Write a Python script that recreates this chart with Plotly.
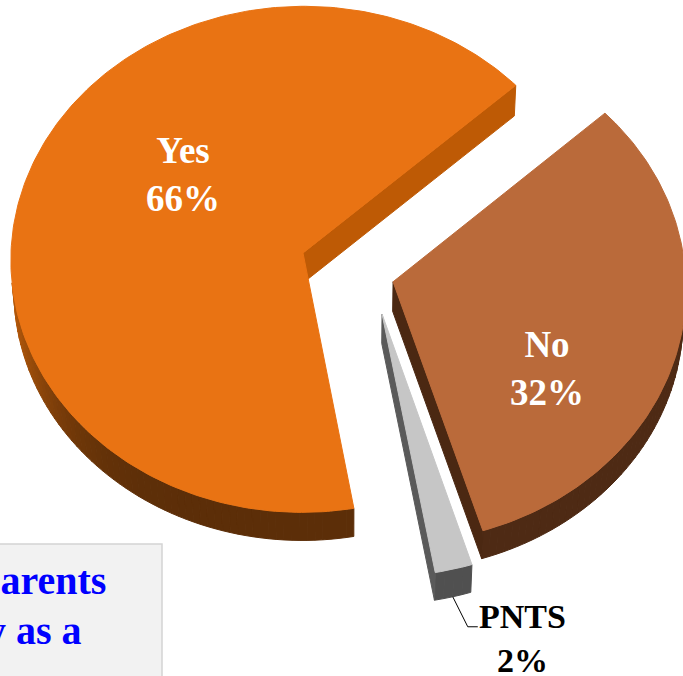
import numpy as np
import plotly.graph_objects as go

# ---- survey result ----
categories = ["Yes", "No", "PNTS"]
shares = [66, 32, 2]                      # percent of respondents
ring_order = ["Yes", "PNTS", "No"]        # counter-clockwise from the start angle

# ---- styling ----
top_colors = {"Yes": "#E97313", "No": "#BA6A3A", "PNTS": "#C6C6C6"}
wall_dark = {"Yes": "#5C2E08", "No": "#4E2A14", "PNTS": "#505050"}
wall_light = {"Yes": "#BC5C0A", "No": "#4E2A14", "PNTS": "#505050"}
cut_colors = {"Yes": "#BE5A05", "No": "#4B2812", "PNTS": "#5A5A5A"}
label_colors = {"Yes": "white", "No": "white", "PNTS": "black"}

# slice displacement in pie-radius units (x to the right, y away from viewer)
explode = {"Yes": (-0.15, 0.0), "No": (0.158, -0.1135), "PNTS": (0.12, -0.24)}
label_radius = {"Yes": 0.52, "No": 0.62}
LABEL_TURN = -18.0
START_DEG = 42.4

# ---- 3-D view ----
W, H = 683, 676
ELEV = np.radians(60)
COS_E, SIN_E = np.cos(ELEV), np.sin(ELEV)
CAM_DIST = 20.0
SCALE = 292.0
FOCAL = SCALE * CAM_DIST
ORIGIN_X, ORIGIN_Y = 346.8, 253.0
THICK = 0.205
CAM = np.array([0.0, -CAM_DIST * COS_E, CAM_DIST * SIN_E])
SERIF = "Liberation Serif"


def project(x, y, z):
    depth = CAM_DIST + y * COS_E - z * SIN_E
    return ORIGIN_X + FOCAL * x / depth, ORIGIN_Y - FOCAL * (y * SIN_E + z * COS_E) / depth


def faces_camera(point, normal):
    return float(np.dot(CAM - point, normal)) > 0


def to_rgb(h):
    h = h.lstrip("#")
    return np.array([int(h[i:i + 2], 16) for i in (0, 2, 4)], dtype=float)


def mix(dark, light, w):
    c = to_rgb(dark) + w * (to_rgb(light) - to_rgb(dark))
    return "rgb(%d,%d,%d)" % tuple(np.round(c).astype(int))


fig = go.Figure()


def polygon(points, color):
    xs, ys = zip(*points)
    fig.add_trace(go.Scatter(
        x=list(xs) + [xs[0]], y=list(ys) + [ys[0]], mode="lines",
        fill="toself", fillcolor=color, line=dict(color=color, width=1),
        hoverinfo="skip", showlegend=False))


# angular extent of each slice
spans = {}
angle = START_DEG
for name in ring_order:
    span = shares[categories.index(name)] / sum(shares) * 360.0
    spans[name] = (angle, angle + span)
    angle += span

# paint the farthest slice first
draw_order = sorted(ring_order, key=lambda n: -(CAM_DIST + explode[n][1] * COS_E))

for name in draw_order:
    a0, a1 = np.radians(spans[name])
    ox, oy = explode[name]

    # curved outer wall, shaded by direction
    n_seg = max(2, int(np.degrees(a1 - a0) / 1.5))
    edges = np.linspace(a0, a1, n_seg + 1)
    for t0, t1 in zip(edges[:-1], edges[1:]):
        tm = 0.5 * (t0 + t1)
        pt = np.array([ox + np.cos(tm), oy + np.sin(tm), -THICK / 2])
        nrm = np.array([np.cos(tm), np.sin(tm), 0.0])
        if not faces_camera(pt, nrm):
            continue
        w = max(0.0, -np.cos(tm)) ** 6
        quad = [project(ox + np.cos(t), oy + np.sin(t), z)
                for t, z in ((t0, 0), (t1, 0), (t1, -THICK), (t0, -THICK))]
        polygon(quad, mix(wall_dark[name], wall_light[name], w))

    # radial cut faces
    for edge, sign in ((a0, 1.0), (a1, -1.0)):
        nrm = sign * np.array([np.sin(edge), -np.cos(edge), 0.0])
        mid = np.array([ox + 0.5 * np.cos(edge), oy + 0.5 * np.sin(edge), -THICK / 2])
        if faces_camera(mid, nrm):
            quad = [project(ox + r * np.cos(edge), oy + r * np.sin(edge), z)
                    for r, z in ((0, 0), (1, 0), (1, -THICK), (0, -THICK))]
            polygon(quad, cut_colors[name])

    # top surface
    ts = np.linspace(a0, a1, max(8, int(np.degrees(a1 - a0))))
    top = [project(ox, oy, 0)] + [project(ox + np.cos(t), oy + np.sin(t), 0) for t in ts]
    polygon(top, top_colors[name])

annotations = []

# inside labels
for name in ("Yes", "No"):
    a0, a1 = spans[name]
    phi = np.radians(0.5 * (a0 + a1) + LABEL_TURN)
    ox, oy = explode[name]
    r = label_radius[name]
    lx, ly = project(ox + r * np.cos(phi), oy + r * np.sin(phi), 0)
    share = shares[categories.index(name)]
    annotations.append(dict(
        x=lx, y=ly, xref="x", yref="y", showarrow=False,
        text="<b>%s</b><br><b>%d%%</b>" % (name, share), align="center",
        font=dict(family=SERIF, size=37, color=label_colors[name])))

# outside label with leader line for the small slice
name = "PNTS"
a0, a1 = np.radians(spans[name])
tm = 0.5 * (a0 + a1)
ox, oy = explode[name]
sx, sy = project(ox + np.cos(tm), oy + np.sin(tm), -THICK)
elbow = (sx + 15, sy + 30)
tail = (elbow[0] + 10, elbow[1])
fig.add_trace(go.Scatter(
    x=[sx, elbow[0], tail[0]], y=[sy, elbow[1], tail[1]], mode="lines",
    line=dict(color="black", width=1), hoverinfo="skip", showlegend=False))
annotations.append(dict(
    x=tail[0] - 1, y=tail[1] + 12, xref="x", yref="y", xanchor="left", yanchor="middle",
    showarrow=False, align="center",
    text="<b>%s</b><br><b>%d%%</b>" % (name, shares[categories.index(name)]),
    font=dict(family=SERIF, size=34, color=label_colors[name])))

# note box in the lower left corner
note_lines = [("Parents", 108, 580), ("y as a", 84, 630)]
for txt, xr, yc in note_lines:
    annotations.append(dict(
        x=xr, y=yc, xref="x", yref="y", xanchor="right", yanchor="middle",
        showarrow=False, text="<b>%s</b>" % txt,
        font=dict(family=SERIF, size=40, color="#0000FF")))

fig.update_layout(
    width=W, height=H, margin=dict(l=0, r=0, t=0, b=0),
    paper_bgcolor="white", plot_bgcolor="white",
    xaxis=dict(range=[0, W], visible=False, fixedrange=True),
    yaxis=dict(range=[H, 0], visible=False, fixedrange=True),
    shapes=[dict(type="rect", xref="x", yref="y", x0=-10, x1=162, y0=544, y1=700,
                 fillcolor="#F2F2F2", line=dict(color="#D4D4D4", width=1.5), layer="above")],
    annotations=annotations,
)

fig.write_html("out.html")
